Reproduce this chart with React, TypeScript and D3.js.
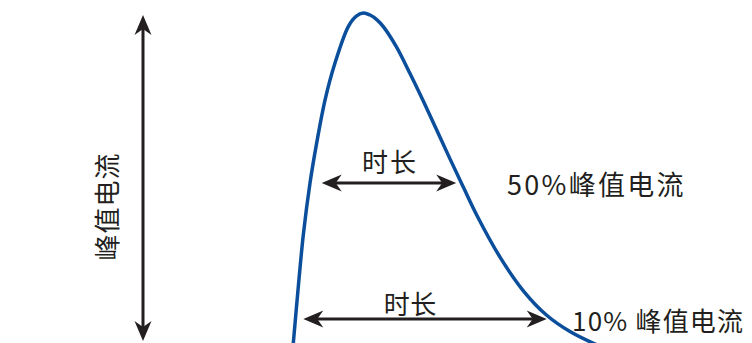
import React from 'react';
import * as d3 from 'd3';

// Waveform: time (arbitrary units) vs current (% of peak)
const time = [0.8, 1.1, 2.77, 4.43, 6.67, 8.9, 11.67, 15, 19.43, 22, 24.43, 26.67, 29, 31.1, 35.57, 40, 44.43, 48.9, 53.33, 57.77, 62.23, 70, 77.77, 85.57, 93.33, 101, 104.7];
const current = [0, 2.9, 19.5, 34.7, 50, 61.8, 74.4, 85.3, 96, 99, 100, 99.4, 98, 96, 89.9, 82.2, 74.1, 65.6, 57.1, 48.8, 40.6, 28.2, 18.3, 11.1, 6.3, 2.9, 1.6];

// Duration arrows at given % of peak
const levels = [50, 10];
const spanStart = [10.57, 4.43];
const spanEnd = [55.4, 85.57];
const spanLabels = ['时长', '时长'];
const spanLabelTime = [33, 40];
const spanLabelCurrent = [56.5, 14.85];
const levelLabels = ['50%峰值电流', '10% 峰值电流'];
const levelLabelTime = [72.3, 94];

// Peak current arrow
const peakArrowTime = -49;
const peakArrowRange = [3.5, 99.4];
const peakLabel = '峰值电流';
const peakLabelTime = -61.5;

const W = 752;
const H = 343;
const FONT = '"Noto Sans CJK SC", "Noto Sans", sans-serif';
const TEXT = '#231f20';
const BLUE = '#0b4e9b';

const x = d3.scaleLinear().domain([0, 100]).range([290, 590]);
const y = d3.scaleLinear().domain([0, 100]).range([353, 13]);

function head(tx: number, ty: number, dx: number, dy: number) {
  // barbed arrowhead, tip at (tx,ty), pointing along (dx,dy)
  const L = 20, Wd = 8.5, N = 14;
  const px = -dy, py = dx;
  const p = (a: number, b: number) => `${tx - dx * a + px * b},${ty - dy * a + py * b}`;
  return `M${p(0, 0)}L${p(L, Wd)}L${p(N, 0)}L${p(L, -Wd)}Z`;
}

export default function App() {
  const pts: [number, number][] = time.map((t, i) => [t, current[i]]);
  const line = d3.line<[number, number]>()
    .x((d) => x(d[0]))
    .y((d) => y(d[1]))
    .curve(d3.curveCatmullRom.alpha(0.5));

  const spanSpacing = [2, 0.5];
  const levelSize = [27, 26];
  const levelSpacing = [2.3, 1.2];

  const vx = x(peakArrowTime);
  const vTop = y(peakArrowRange[1]);
  const vBot = y(peakArrowRange[0]);

  return (
    <svg width={W} height={H} style={{ position: 'absolute', left: 0, top: 0, background: '#fff' }}>
      <path d={line(pts) || ''} fill="none" stroke={BLUE} strokeWidth={3.5} />

      {levels.map((lv, i) => {
        const yy = y(lv);
        const x0 = x(spanStart[i]);
        const x1 = x(spanEnd[i]);
        return (
          <g key={i}>
            <line x1={x0 + 12} x2={x1 - 12} y1={yy} y2={yy} stroke={TEXT} strokeWidth={3} />
            <path d={head(x0, yy, -1, 0)} fill={TEXT} />
            <path d={head(x1, yy, 1, 0)} fill={TEXT} />
            <text
              x={x(spanLabelTime[i]) + spanSpacing[i] / 2}
              y={y(spanLabelCurrent[i])}
              textAnchor="middle"
              dominantBaseline="central"
              fontFamily={FONT}
              fontSize={26}
              fill={TEXT}
              letterSpacing={spanSpacing[i]}
            >
              {spanLabels[i]}
            </text>
            <text
              x={x(levelLabelTime[i])}
              y={yy}
              textAnchor="start"
              dominantBaseline="central"
              fontFamily={FONT}
              fontSize={levelSize[i]}
              fill={TEXT}
              letterSpacing={levelSpacing[i]}
            >
              {levelLabels[i]}
            </text>
          </g>
        );
      })}

      <line x1={vx} x2={vx} y1={vTop + 12} y2={vBot - 12} stroke={TEXT} strokeWidth={3} />
      <path d={head(vx, vTop, 0, -1)} fill={TEXT} />
      <path d={head(vx, vBot, 0, 1)} fill={TEXT} />
      <text
        transform={`translate(${x(peakLabelTime)},${(vTop + vBot) / 2 + 28.5}) rotate(-90)`}
        textAnchor="middle"
        dominantBaseline="central"
        fontFamily={FONT}
        fontSize={26}
        fill={TEXT}
        letterSpacing={1}
      >
        {peakLabel}
      </text>
    </svg>
  );
}
